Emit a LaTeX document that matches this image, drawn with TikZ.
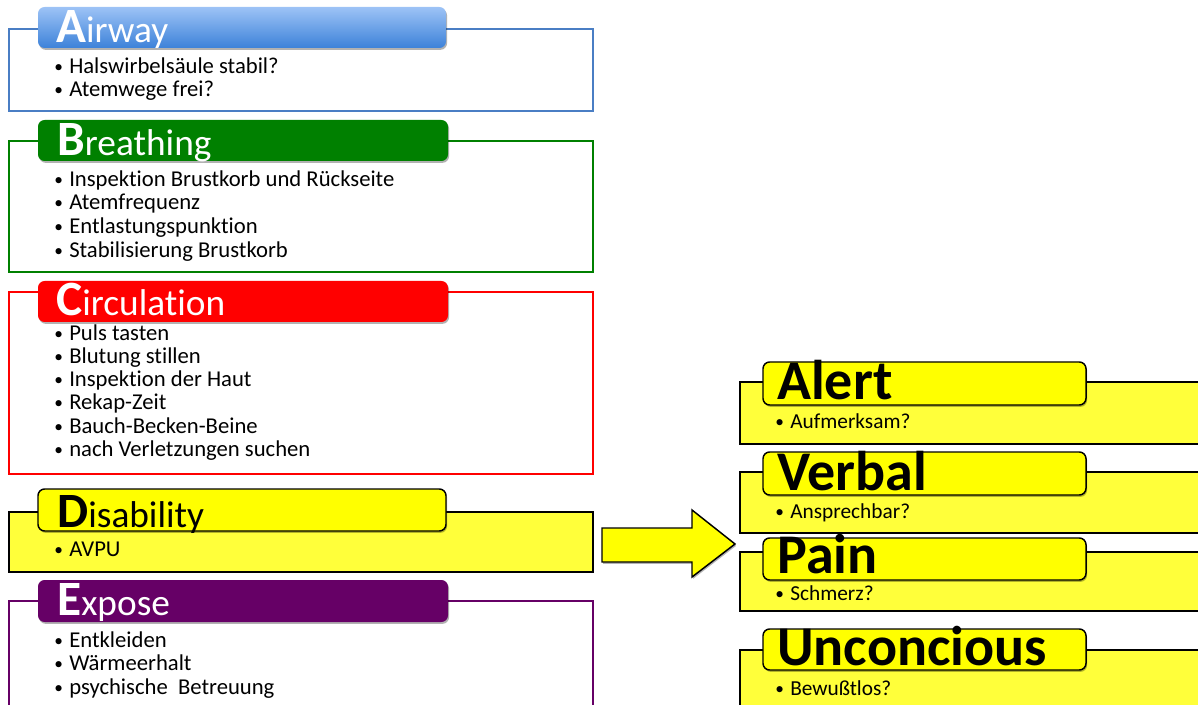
\documentclass[tikz,border=0pt]{standalone}
\usepackage{fontspec}
\setmainfont{Carlito}[Ligatures=NoCommon]
\usetikzlibrary{shadows,fit}
\definecolor{ablue1}{HTML}{9DC3F6}
\definecolor{ablue2}{HTML}{3D82D9}
\definecolor{aborder}{HTML}{4A7EC4}
\definecolor{bgreen}{HTML}{008000}
\definecolor{cred}{HTML}{FF0000}
\definecolor{dyel}{HTML}{FFFF00}
\definecolor{dyel2}{HTML}{FFFF3A}
\definecolor{epurp}{HTML}{660066}
\newcommand\hdrtext[2]{{\bfseries\fontsize{37}{37}\selectfont #1}{\fontsize{28}{28}\selectfont #2}}
\newcommand\bu[1]{\makebox[11.25pt][l]{\raisebox{0.5pt}{\fontsize{13}{13}\selectfont\textbullet}}#1}
\begin{document}
\begin{tikzpicture}[x=0.75pt,y=-0.75pt,
  outerbox/.style={draw, line width=1.1pt, inner sep=0pt, outer sep=0pt},
  hdr/.style={rounded corners=5pt, inner sep=0pt, outer sep=0pt,
    drop shadow={shadow xshift=0.8pt, shadow yshift=-1.4pt, fill=black, opacity=0.3}},
  htitle/.style={anchor=base west, inner sep=0pt, text=white},
  rtitle/.style={anchor=base west, inner sep=0pt, text depth=0pt, font=\bfseries\fontsize{42}{42}\selectfont},
  bul/.style={anchor=mid west, inner sep=0pt, font=\fontsize{17}{18}\selectfont},
  rbul/.style={anchor=mid west, inner sep=0pt, font=\fontsize{16}{18}\selectfont},
  bigarrow/.style={draw, line width=1.1pt, fill=dyel,
    drop shadow={shadow xshift=0.8pt, shadow yshift=-1.4pt, fill=black, opacity=0.3}}
]
\useasboundingbox (0,0) rectangle (1198,705);
\clip (0,0) rectangle (1198,705);

% ---------- Airway ----------
\node[outerbox, draw=aborder, fit={(9,29) (593,111)}] (boxA) {};
\node[hdr, top color=ablue1, bottom color=ablue2, fit={(38,7) (446,48)}] (hA) {};
\node[htitle] (tA) at (56,43) {\hdrtext{A}{irway}};
\node[bul] (a1) at (54,70) {\bu{Halswirbelsäule stabil?}};
\node[bul] (a2) at (54,93) {\bu{Atemwege frei?}};

% ---------- Breathing ----------
\node[outerbox, draw=bgreen, fit={(9,141) (593,272)}] (boxB) {};
\node[hdr, fill=bgreen, fit={(38,120) (448,161)}] (hB) {};
\node[htitle] (tB) at (57,156) {\hdrtext{B}{reathing}};
\node[bul] (b1) at (54,183) {\bu{Inspektion Brustkorb und Rückseite}};
\node[bul] (b2) at (54,206) {\bu{Atemfrequenz}};
\node[bul] (b3) at (54,230) {\bu{Entlastungspunktion}};
\node[bul] (b4) at (54,254) {\bu{Stabilisierung Brustkorb}};

% ---------- Circulation ----------
\node[outerbox, draw=cred, fit={(9,292) (593,474)}] (boxC) {};
\node[hdr, fill=cred, fit={(38,281) (448,322)}] (hC) {};
\node[htitle] (tC) at (56,316) {\hdrtext{C}{irculation}};
\node[bul] (c1) at (54,337) {\bu{Puls tasten}};
\node[bul] (c2) at (54,360) {\bu{Blutung stillen}};
\node[bul] (c3) at (54,383) {\bu{Inspektion der Haut}};
\node[bul] (c4) at (54,406) {\bu{Rekap-Zeit}};
\node[bul] (c5) at (54,430) {\bu{Bauch-Becken-Beine}};
\node[bul] (c6) at (54,453) {\bu{nach Verletzungen suchen}};

% ---------- Disability ----------
\node[outerbox, draw=black, fill=dyel2, fit={(9,512) (593,572)}] (boxD) {};
\node[hdr, draw=black, line width=1.1pt, fill=dyel, fit={(38,489) (446,531)}] (hD) {};
\node[htitle, text=black] (tD) at (57,527) {\hdrtext{D}{isability}};
\node[bul] (d1) at (54,553) {\bu{AVPU}};

% ---------- Expose ----------
\node[outerbox, draw=epurp, fit={(9,601) (593,730)}] (boxE) {};
\node[hdr, fill=epurp, fit={(38,580) (448,622)}] (hE) {};
\node[htitle] (tE) at (57,615) {\hdrtext{E}{xpose}};
\node[bul] (e1) at (54,644) {\bu{Entkleiden}};
\node[bul] (e2) at (54,667) {\bu{Wärmeerhalt}};
\node[bul] (e3) at (54,691) {\bu{psychische\ \ Betreuung}};

% ---------- Arrow ----------
\draw[bigarrow] (602,528) -- (692,528) -- (692,510) -- (735,544) -- (692,577) -- (692,562) -- (602,562) -- cycle;

% ---------- Alert ----------
\node[outerbox, draw=black, fill=dyel2, fit={(740,382) (1220,444)}] (boxAl) {};
\node[hdr, draw=black, line width=1.1pt, fill=dyel, fit={(763,362) (1086,405)}] (hAl) {};
\node[rtitle] (tAl) at (777,400) {Alert};
\node[rbul] (al1) at (775,425) {\bu{Aufmerksam?}};

% ---------- Verbal ----------
\node[outerbox, draw=black, fill=dyel2, fit={(740,472) (1220,533)}] (boxV) {};
\node[hdr, draw=black, line width=1.1pt, fill=dyel, fit={(763,452) (1086,495)}] (hV) {};
\node[rtitle] (tV) at (777,490) {Verbal};
\node[rbul] (v1) at (775,515) {\bu{Ansprechbar?}};

% ---------- Pain ----------
\node[outerbox, draw=black, fill=dyel2, fit={(740,552) (1220,611)}] (boxP) {};
\node[hdr, draw=black, line width=1.1pt, fill=dyel, fit={(763,538) (1086,580)}] (hP) {};
\node[rtitle] (tP) at (777,573) {Pain};
\node[rbul] (p1) at (775,597) {\bu{Schmerz?}};

% ---------- Unconcious ----------
\node[outerbox, draw=black, fill=dyel2, fit={(740,650) (1220,730)}] (boxU) {};
\node[hdr, draw=black, line width=1.1pt, fill=dyel, fit={(763,629) (1086,670)}] (hU) {};
\node[rtitle] (tU) at (777,665) {Unconcious};
\node[rbul] (u1) at (775,692) {\bu{Bewußtlos?}};
\end{tikzpicture}
\end{document}
